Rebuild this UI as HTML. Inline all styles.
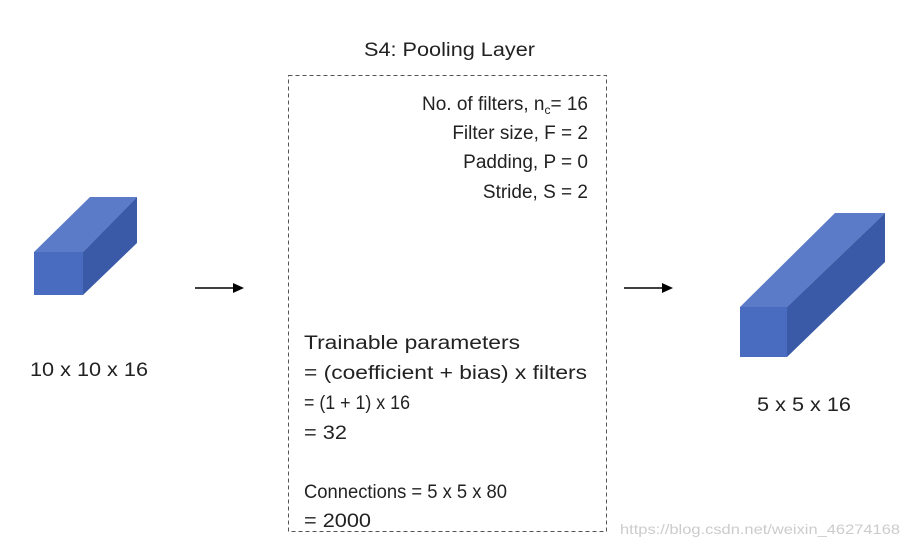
<!DOCTYPE html>
<html><head><style>html,body{margin:0;padding:0;background:#fff;}svg{display:block}</style></head>
<body>
<svg width="909" height="549" viewBox="0 0 909 549" xmlns="http://www.w3.org/2000/svg" font-family="Liberation Sans, sans-serif" font-size="18" fill="#222">
<rect width="909" height="549" fill="#fff"/>
<polygon points="34,252 90,197 137,197 83,252" fill="#5b7bc8"/>
<polygon points="83,252 137,197 137,243 83,295" fill="#3a5aa8"/>
<rect x="34" y="252" width="49" height="43" fill="#4a6cc0"/>
<polygon points="740,307 835,213 885,213 787,307" fill="#5b7bc8"/>
<polygon points="787,307 885,213 885,262 787,357" fill="#3a5aa8"/>
<rect x="740" y="307" width="47" height="50" fill="#4a6cc0"/>
<line x1="195" y1="288" x2="234" y2="288" stroke="#000" stroke-width="1.5"/>
<polygon points="233,283 244,288 233,293" fill="#000"/>
<line x1="624" y1="288" x2="663" y2="288" stroke="#000" stroke-width="1.5"/>
<polygon points="662,283 673,288 662,293" fill="#000"/>
<rect x="288.5" y="75.5" width="318" height="456" fill="none" stroke="#555" stroke-width="1" stroke-dasharray="4,3"/>
<text x="364" y="56" font-size="19" textLength="171" lengthAdjust="spacingAndGlyphs">S4: Pooling Layer</text>
<text x="588" y="110" font-size="19" text-anchor="end">No. of filters, n<tspan font-size="12" dy="4">c</tspan><tspan dy="-4">= 16</tspan></text>
<text x="588" y="139" font-size="19" text-anchor="end">Filter size, F = 2</text>
<text x="588" y="168" font-size="19" text-anchor="end">Padding, P = 0</text>
<text x="588" y="198" font-size="19" text-anchor="end">Stride, S = 2</text>
<g font-size="19">
<text x="304" y="349" textLength="216" lengthAdjust="spacingAndGlyphs">Trainable parameters</text>
<text x="304" y="379" textLength="283" lengthAdjust="spacingAndGlyphs">= (coefficient + bias) x filters</text>
<text x="304" y="409" textLength="106" lengthAdjust="spacingAndGlyphs">= (1 + 1) x 16</text>
<text x="304" y="439" textLength="43" lengthAdjust="spacingAndGlyphs">= 32</text>
<text x="304" y="498" textLength="203" lengthAdjust="spacingAndGlyphs">Connections = 5 x 5 x 80</text>
<text x="304" y="527" textLength="67" lengthAdjust="spacingAndGlyphs">= 2000</text>
<text x="30" y="376" textLength="118" lengthAdjust="spacingAndGlyphs">10 x 10 x 16</text>
<text x="757" y="411" textLength="94" lengthAdjust="spacingAndGlyphs">5 x 5 x 16</text>
</g>
<text x="620" y="534" font-size="14" fill="#ccc" textLength="280" lengthAdjust="spacingAndGlyphs">https://blog.csdn.net/weixin_46274168</text>
</svg>
</body></html>
